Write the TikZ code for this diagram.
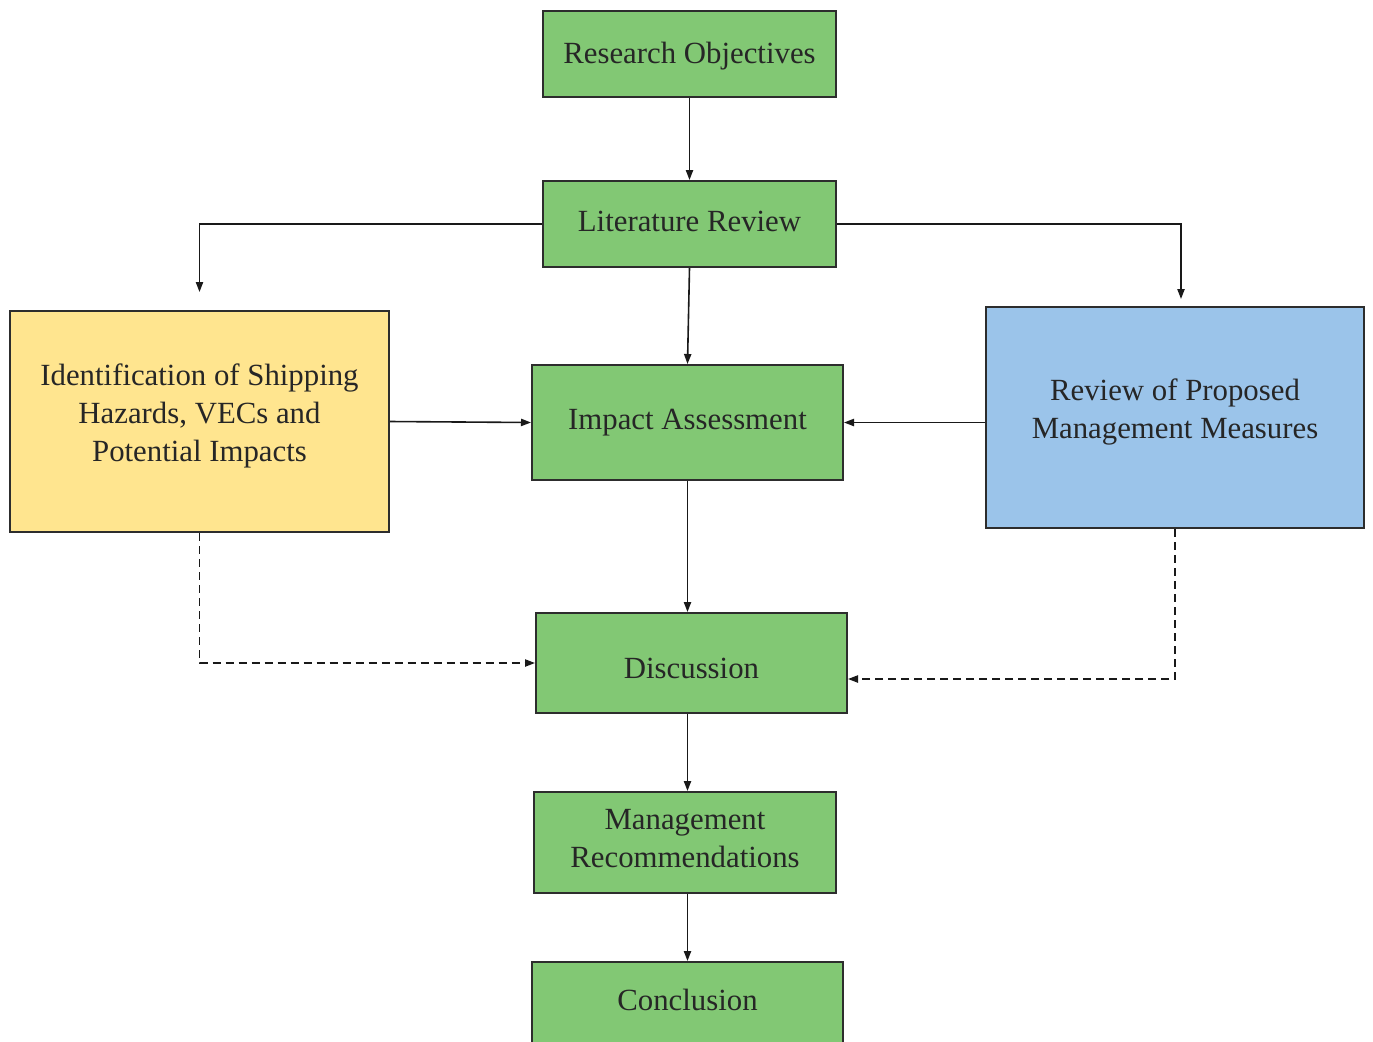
\documentclass[tikz,border=0pt]{standalone}
\usepackage{fontspec}
\setmainfont{Liberation Serif}
\usetikzlibrary{arrows.meta,calc}
\definecolor{boxgreen}{RGB}{130,200,116}
\definecolor{boxyellow}{RGB}{255,229,143}
\definecolor{boxblue}{RGB}{155,196,234}
\definecolor{edge}{RGB}{45,45,45}
\newsavebox{\shiftbox}
\newcommand{\shifttext}[2]{\sbox{\shiftbox}{\begin{tabular}{@{}c@{}}#2\end{tabular}}%
  \raisebox{#1}[\ht\shiftbox][\dp\shiftbox]{\usebox{\shiftbox}}}
\begin{document}
\begin{tikzpicture}[x=0.5pt,y=-0.5pt,
  box/.style={draw=edge,line width=1pt,inner sep=0pt,align=center,
    font=\fontsize{15.4}{19}\selectfont,text=black!85},
  gbox/.style={box,fill=boxgreen},
  arr/.style={draw=black!90,line width=0.8pt,-{Triangle[length=5pt,width=3.6pt]}},
  darr/.style={arr,dash pattern=on 4pt off 2.5pt}]
\useasboundingbox (0,0) rectangle (1373,1041);
\clip (0,0) rectangle (1373,1041);
\node[gbox,minimum width=146.5pt,minimum height=43pt] (RO) at (689.5,54) {\shifttext{-1pt}{Research Objectives}};
\node[gbox,minimum width=146.5pt,minimum height=43pt] (LR) at (689.5,224) {\shifttext{0pt}{Literature Review}};
\node[box,fill=boxyellow,minimum width=189.5pt,minimum height=110.5pt] (ID) at (199.5,421.5)
  {\shifttext{3pt}{Identification of Shipping\\Hazards, VECs and\\Potential Impacts}};
\node[gbox,minimum width=155.5pt,minimum height=57.5pt] (IA) at (687.5,422.5) {\shifttext{0.5pt}{Impact Assessment}};
\node[box,fill=boxblue,minimum width=189pt,minimum height=110.5pt] (RP) at (1175,417.5)
  {\shifttext{3pt}{Review of Proposed\\Management Measures}};
\node[gbox,minimum width=155.5pt,minimum height=50pt] (Disc) at (691.5,663) {\shifttext{-4pt}{Discussion}};
\node[gbox,minimum width=151pt,minimum height=50.5pt] (MR) at (685,842.5) {\shifttext{1pt}{Management\\Recommendations}};
\node[gbox,minimum width=155.5pt,minimum height=48pt] (Conc) at (687.5,1010) {\shifttext{3.5pt}{Conclusion}};
\coordinate (idtop) at ($(ID.north)+(0,-18)$);
\coordinate (rptop) at ($(RP.north)+(6,-7)$);
\coordinate (discr) at ($(Disc.east)+(0,16)$);
\draw[arr] (RO.south) -- (LR.north);
\draw[arr] (LR.west) -| (idtop);
\draw[arr] (LR.east) -| (rptop);
\draw[arr] (LR.south) -- (IA.north);
\draw[arr] (ID.east) -- (IA.west);
\draw[arr] (IA.east -| RP.west) -- (IA.east);
\draw[arr] (IA.south) -- (IA.south |- Disc.north);
\draw[darr] (ID.south) |- (Disc.west);
\draw[darr] (RP.south) |- (discr);
\draw[arr] (Disc.south -| IA.south) -- (MR.north -| IA.south);
\draw[arr] (MR.south -| Conc.north) -- (Conc.north);
\end{tikzpicture}
\end{document}
